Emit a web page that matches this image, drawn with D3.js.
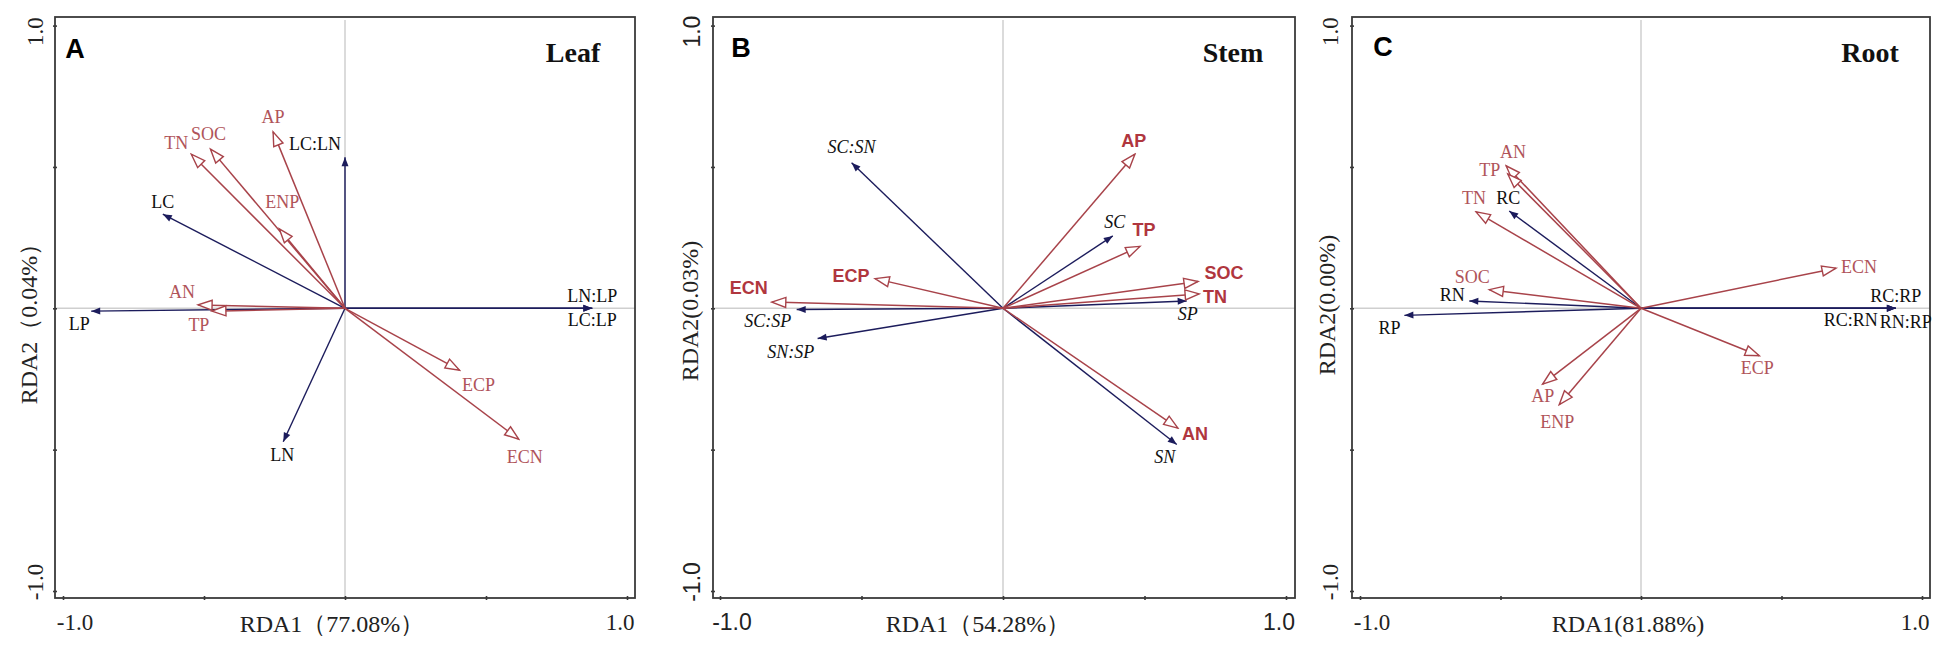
<!DOCTYPE html>
<html><head><meta charset="utf-8">
<script src="https://cdn.jsdelivr.net/npm/d3@7"></script>
<style>body{margin:0;background:#fff}svg{display:block}</style>
</head><body>
<svg id="chart" width="1949" height="645"></svg>
<script>
// ---------- DATA ----------
const tickValues = [-1, -0.5, 0, 0.5, 1];
const tickLabels = ["-1.0", "", "", "", "1.0"];

const leafVars  = ["AP","TN","SOC","ENP","AN","TP","ECP","ECN","LC:LN","LC","LP","LN","LN:LP","LC:LP"];
const leafRDA1  = [-0.255,-0.545,-0.477,-0.233,-0.521,-0.472,0.406,0.616,0.000,-0.646,-0.900,-0.219,0.877,0.877];
const leafRDA2  = [0.624,0.545,0.563,0.281,0.012,-0.010,-0.219,-0.463,0.534,0.333,-0.010,-0.472,0.000,0.000];
const leafType  = ["soil","soil","soil","soil","soil","soil","soil","soil","plant","plant","plant","plant","plant","plant"];

const stemVars  = ["SC:SN","ECP","ECN","SC:SP","SN:SP","AP","SC","TP","SOC","TN","SP","AN","SN"];
const stemRDA1  = [-0.535,-0.452,-0.817,-0.729,-0.655,0.466,0.388,0.484,0.689,0.693,0.649,0.618,0.614];
const stemRDA2  = [0.515,0.105,0.022,-0.004,-0.107,0.545,0.256,0.219,0.095,0.051,0.026,-0.424,-0.482];
const stemType  = ["plant","soil","soil","plant","plant","soil","plant","soil","soil","soil","plant","soil","plant"];

const rootVars  = ["AN","TP","TN","RC","SOC","RN","RP","ECN","RC:RP","RC:RN","RN:RP","ECP","AP","ENP"];
const rootRDA1  = [-0.480,-0.474,-0.587,-0.469,-0.540,-0.611,-0.842,0.694,0.907,0.907,0.907,0.421,-0.350,-0.291];
const rootRDA2  = [0.504,0.475,0.341,0.344,0.066,0.026,-0.025,0.142,0.000,0.000,0.000,-0.168,-0.268,-0.341];
const rootType  = ["soil","soil","soil","plant","soil","plant","plant","soil","plant","plant","plant","soil","soil","soil"];

const panelLetters = ["A","B","C"];
const panelTitles  = ["Leaf","Stem","Root"];
const xTitles = ["RDA1（77.08%）","RDA1（54.28%）","RDA1(81.88%)"];
const yTitles = ["RDA2（0.04%）","RDA2(0.03%)","RDA2(0.00%)"];

// ---------- LAYOUT / STYLE ----------
const RED = "#a8434a", RED_TXT = "#b0545a", RED_BOLD = "#b0363e", NAVY = "#1c1c5c";
const layout = [
  {frame:[55,17,635,598],  xr:[63,627],   ytx:29,  ytk:35,  letter:[75,49],   title:[573,52],
   tickFont:"Liberation Serif, Times New Roman, serif", style:"serif"},
  {frame:[713,17,1295,598],xr:[720,1286], ytx:690, ytk:692, letter:[741,48],  title:[1233,52],
   tickFont:"Liberation Sans, Arial, sans-serif", style:"stem"},
  {frame:[1352,17,1930,598],xr:[1360,1922],ytx:1327,ytk:1330,letter:[1383,47],title:[1870,52],
   tickFont:"Liberation Serif, Times New Roman, serif", style:"serif"}
];
const xTitleX = [332, 978, 1628];
const yTitleY = [318, 311, 305];
const yRange = [591, 25.6];

const nudges = [
  {"AP":[0,-15],"TN":[-15,-11],"SOC":[-2,-15],"ENP":[3,-27],"AN":[-16,-13],"TP":[-13,14],"ECP":[19,15],
   "ECN":[6,18],"LC:LN":[-30,-13],"LC":[0,-12],"LP":[-12,13],"LN":[-1,13],"LN:LP":[0,-12],"LC:LP":[0,12]},
  {"SC:SN":[0,-16],"ECP":[-24,-3],"ECN":[-23,-14],"SC:SP":[-29,12],"SN:SP":[-27,13],"AP":[-1,-13],
   "SC":[2,-14],"TP":[4,-16],"SOC":[26,-8],"TN":[16,3],"SP":[1,13],"AN":[17,6],"SN":[-12,12]},
  {"AN":[7,-14],"TP":[-18,-4],"TN":[-2,-14],"RC":[-1,-13],"SOC":[-17,-13],"RN":[-17,-6],"RP":[-15,13],
   "ECN":[23,-1],"RC:RP":[0,-12],"RC:RN":[-45,12],"RN:RP":[10,14],"ECP":[-2,12],"AP":[0,12],"ENP":[-2,17]}
];

const datasets = [
  {vars:leafVars, x:leafRDA1, y:leafRDA2, t:leafType},
  {vars:stemVars, x:stemRDA1, y:stemRDA2, t:stemType},
  {vars:rootVars, x:rootRDA1, y:rootRDA2, t:rootType}
];

const svg = d3.select("#chart");
const defs = svg.append("defs");
defs.append("marker").attr("id","openHead").attr("markerUnits","userSpaceOnUse")
  .attr("viewBox","-16 -7 18 14").attr("refX",0).attr("refY",0)
  .attr("markerWidth",18).attr("markerHeight",14).attr("orient","auto")
  .append("path").attr("d","M0,0 L-14,-5 L-14,5 Z").attr("fill","#fff")
  .attr("stroke",RED).attr("stroke-width",1.4).attr("stroke-linejoin","miter");
defs.append("marker").attr("id","fillHead").attr("markerUnits","userSpaceOnUse")
  .attr("viewBox","-11 -5 12 10").attr("refX",0).attr("refY",0)
  .attr("markerWidth",12).attr("markerHeight",10).attr("orient","auto")
  .append("path").attr("d","M0,0 L-9,-3.5 L-9,3.5 Z").attr("fill",NAVY);

layout.forEach((L, i) => {
  const d = datasets[i];
  const [fx0, fy0, fx1, fy1] = L.frame;
  const x = d3.scaleLinear().domain([-1,1]).range(L.xr);
  const y = d3.scaleLinear().domain([-1,1]).range(yRange);
  const g = svg.append("g");

  // reference lines through origin
  g.append("line").attr("x1",x(0)).attr("x2",x(0)).attr("y1",fy0+3).attr("y2",fy1)
    .attr("stroke","#cfcfcf").attr("stroke-width",1.5);
  g.append("line").attr("x1",fx0).attr("x2",fx1).attr("y1",y(0)).attr("y2",y(0))
    .attr("stroke","#cfcfcf").attr("stroke-width",1.5);

  // frame
  g.append("rect").attr("x",fx0).attr("y",fy0).attr("width",fx1-fx0).attr("height",fy1-fy0)
    .attr("fill","none").attr("stroke","#3a3a3a").attr("stroke-width",1.8);

  // axes (ticks)
  const xa = d3.axisBottom(x).tickValues(tickValues).tickFormat("").tickSize(4).tickSizeOuter(0);
  const xg = g.append("g").attr("transform",`translate(0,${fy1-2})`).call(xa);
  xg.select(".domain").remove();
  xg.selectAll(".tick line").attr("stroke","#3a3a3a").attr("stroke-width",1.6);
  const ya = d3.axisLeft(y).tickValues(tickValues).tickFormat("").tickSize(4).tickSizeOuter(0);
  const yg = g.append("g").attr("transform",`translate(${fx0+2},0)`).call(ya);
  yg.select(".domain").remove();
  yg.selectAll(".tick line").attr("stroke","#3a3a3a").attr("stroke-width",1.6);

  // tick labels
  tickValues.forEach((v, k) => {
    if (!tickLabels[k]) return;
    const dx = v < 0 ? 12 : -7;
    g.append("text").attr("x",x(v)+dx).attr("y",622).attr("text-anchor","middle")
      .attr("dominant-baseline","central").attr("font-family",L.tickFont).attr("font-size",23)
      .attr("fill","#222").text(tickLabels[k]);
    const dy = v < 0 ? -9 : 6;
    g.append("text").attr("transform",`translate(${L.ytk},${y(v)+dy}) rotate(-90)`)
      .attr("text-anchor","middle").attr("dominant-baseline","central")
      .attr("font-family",L.tickFont).attr("font-size",23).attr("fill","#222").text(tickLabels[k]);
  });

  // axis titles
  g.append("text").attr("x",xTitleX[i]).attr("y",624).attr("text-anchor","middle")
    .attr("dominant-baseline","central").attr("font-family","Liberation Serif, Times New Roman, serif")
    .attr("font-size",24).attr("fill","#222").text(xTitles[i]);
  g.append("text").attr("transform",`translate(${L.ytx},${yTitleY[i]}) rotate(-90)`)
    .attr("text-anchor","middle").attr("dominant-baseline","central")
    .attr("font-family","Liberation Serif, Times New Roman, serif")
    .attr("font-size",24).attr("fill","#222").text(yTitles[i]);

  // panel letter & title
  g.append("text").attr("x",L.letter[0]).attr("y",L.letter[1]).attr("text-anchor","middle")
    .attr("dominant-baseline","central").attr("font-family","Liberation Sans, Arial, sans-serif")
    .attr("font-weight","bold").attr("font-size",27).attr("fill","#000").text(panelLetters[i]);
  g.append("text").attr("x",L.title[0]).attr("y",L.title[1]).attr("text-anchor","middle")
    .attr("dominant-baseline","central").attr("font-family","Liberation Serif, Times New Roman, serif")
    .attr("font-weight","bold").attr("font-size",28).attr("fill","#111").text(panelTitles[i]);

  // arrows
  const rows = d.vars.map((v, k) => ({name:v, x:d.x[k], y:d.y[k], t:d.t[k]}));
  const order = rows.slice().sort((a,b) => (a.t === "soil") - (b.t === "soil"));
  g.append("g").selectAll("line").data(order).join("line")
    .attr("x1",x(0)).attr("y1",y(0))
    .attr("x2",r => x(r.x)).attr("y2",r => y(r.y))
    .attr("stroke",r => r.t === "soil" ? RED : NAVY)
    .attr("stroke-width",r => r.t === "soil" ? 1.5 : 1.4)
    .attr("marker-end",r => r.t === "soil" ? "url(#openHead)" : "url(#fillHead)");

  // labels
  const nz = nudges[i];
  g.append("g").selectAll("text").data(rows).join("text")
    .attr("x",r => x(r.x) + (nz[r.name] ? nz[r.name][0] : 0))
    .attr("y",r => y(r.y) + (nz[r.name] ? nz[r.name][1] : 0))
    .attr("text-anchor","middle").attr("dominant-baseline","central")
    .attr("font-size",18)
    .attr("font-family",r => (L.style === "stem" && r.t === "soil") ? "Liberation Sans, Arial, sans-serif" : "Liberation Serif, Times New Roman, serif")
    .attr("font-weight",r => (L.style === "stem" && r.t === "soil") ? "bold" : "normal")
    .attr("font-style",r => (L.style === "stem" && r.t === "plant") ? "italic" : "normal")
    .attr("fill",r => r.t === "soil" ? (L.style === "stem" ? RED_BOLD : RED_TXT) : "#111")
    .text(r => r.name);
});
</script>
</body></html>
